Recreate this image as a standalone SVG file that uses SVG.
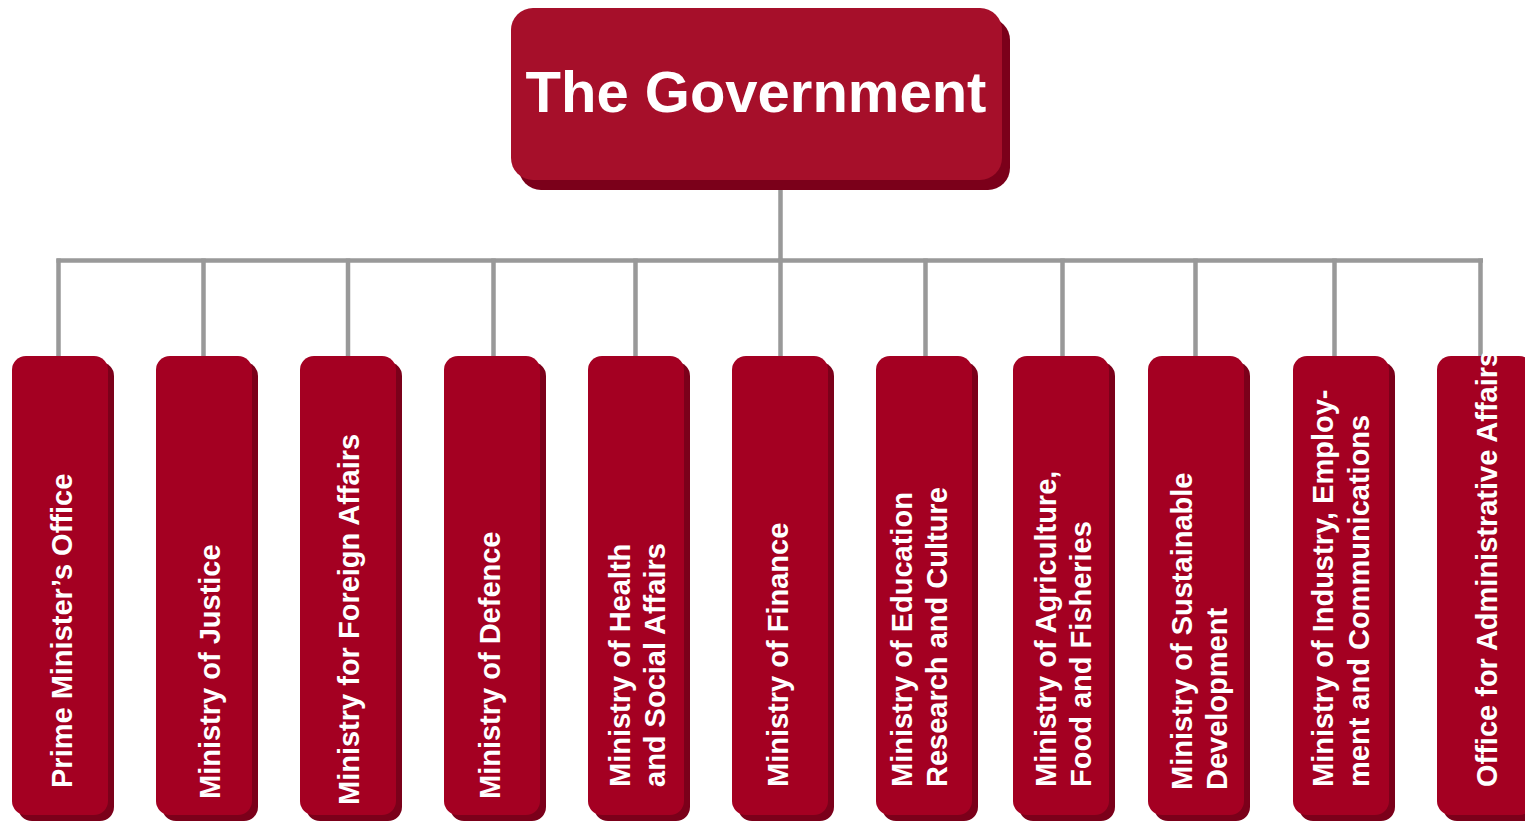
<svg xmlns="http://www.w3.org/2000/svg" width="1525" height="821" viewBox="0 0 1525 821">
<style>
.lbl{font-family:"Liberation Sans",Arial,Helvetica,sans-serif;font-weight:bold;font-size:29px;fill:#ffffff}
.title{font-family:"Liberation Sans",Arial,Helvetica,sans-serif;font-weight:bold;font-size:58px;fill:#ffffff}
.front{fill:#A40022}
.shadow{fill:#7B001A}
.conn{stroke:#999999;stroke-width:4.5;fill:none}
</style>
<rect width="1525" height="821" fill="#ffffff"/>
<g id="connectors">
<line class="conn" x1="780.5" y1="188" x2="780.5" y2="260.5"/>
<line class="conn" x1="56.5" y1="260.5" x2="1483" y2="260.5"/>
<line class="conn" x1="58.5" y1="258.5" x2="58.5" y2="360"/>
<line class="conn" x1="203.5" y1="258.5" x2="203.5" y2="360"/>
<line class="conn" x1="348" y1="258.5" x2="348" y2="360"/>
<line class="conn" x1="493.5" y1="258.5" x2="493.5" y2="360"/>
<line class="conn" x1="635.5" y1="258.5" x2="635.5" y2="360"/>
<line class="conn" x1="780.5" y1="258.5" x2="780.5" y2="360"/>
<line class="conn" x1="925.5" y1="258.5" x2="925.5" y2="360"/>
<line class="conn" x1="1062.5" y1="258.5" x2="1062.5" y2="360"/>
<line class="conn" x1="1195.5" y1="258.5" x2="1195.5" y2="360"/>
<line class="conn" x1="1334.5" y1="258.5" x2="1334.5" y2="360"/>
<line class="conn" x1="1480.5" y1="258.5" x2="1480.5" y2="360"/>
</g>
<g id="government">
<rect class="shadow" x="519" y="18" width="491" height="172" rx="22" fill="#7B001A"/>
<rect x="511" y="8" width="491" height="172" rx="22" fill="#A60F2A"/>
<text class="title" x="756" y="112" text-anchor="middle">The Government</text>
</g>
<g id="n1">
<rect class="shadow" x="18" y="362" width="96" height="459" rx="14"/>
<rect class="front" x="12" y="356" width="96" height="459" rx="14"/>
<text class="lbl" transform="translate(72,788) rotate(-90)">Prime Minister’s Office</text>
</g>
<g id="n2">
<rect class="shadow" x="162" y="362" width="96" height="459" rx="14"/>
<rect class="front" x="156" y="356" width="96" height="459" rx="14"/>
<text class="lbl" transform="translate(220,799) rotate(-90)">Ministry of Justice</text>
</g>
<g id="n3">
<rect class="shadow" x="306" y="362" width="96" height="459" rx="14"/>
<rect class="front" x="300" y="356" width="96" height="459" rx="14"/>
<text class="lbl" transform="translate(359,805) rotate(-90)">Ministry for Foreign Affairs</text>
</g>
<g id="n4">
<rect class="shadow" x="450" y="362" width="96" height="459" rx="14"/>
<rect class="front" x="444" y="356" width="96" height="459" rx="14"/>
<text class="lbl" transform="translate(500,799) rotate(-90)">Ministry of Defence</text>
</g>
<g id="n5">
<rect class="shadow" x="594" y="362" width="96" height="459" rx="14"/>
<rect class="front" x="588" y="356" width="96" height="459" rx="14"/>
<text class="lbl" transform="translate(630,787) rotate(-90)"><tspan x="0" y="0">Ministry of Health</tspan><tspan x="0" y="35">and Social Affairs</tspan></text>
</g>
<g id="n6">
<rect class="shadow" x="738" y="362" width="96" height="459" rx="14"/>
<rect class="front" x="732" y="356" width="96" height="459" rx="14"/>
<text class="lbl" transform="translate(788,787) rotate(-90)">Ministry of Finance</text>
</g>
<g id="n7">
<rect class="shadow" x="882" y="362" width="96" height="459" rx="14"/>
<rect class="front" x="876" y="356" width="96" height="459" rx="14"/>
<text class="lbl" transform="translate(912,787) rotate(-90)"><tspan x="0" y="0">Ministry of Education</tspan><tspan x="0" y="35">Research and Culture</tspan></text>
</g>
<g id="n8">
<rect class="shadow" x="1019" y="362" width="96" height="459" rx="14"/>
<rect class="front" x="1013" y="356" width="96" height="459" rx="14"/>
<text class="lbl" transform="translate(1056,787) rotate(-90)"><tspan x="0" y="0">Ministry of Agriculture,</tspan><tspan x="0" y="35">Food and Fisheries</tspan></text>
</g>
<g id="n9">
<rect class="shadow" x="1154" y="362" width="96" height="459" rx="14"/>
<rect class="front" x="1148" y="356" width="96" height="459" rx="14"/>
<text class="lbl" transform="translate(1192,790) rotate(-90)"><tspan x="0" y="0">Ministry of Sustainable</tspan><tspan x="0" y="35">Development</tspan></text>
</g>
<g id="n10">
<rect class="shadow" x="1299" y="362" width="96" height="459" rx="14"/>
<rect class="front" x="1293" y="356" width="96" height="459" rx="14"/>
<text class="lbl" transform="translate(1333,787) rotate(-90)"><tspan x="0" y="0">Ministry of Industry, Employ-</tspan><tspan x="0" y="36">ment and Communications</tspan></text>
</g>
<g id="n11">
<rect class="shadow" x="1443" y="362" width="96" height="459" rx="14"/>
<rect class="front" x="1437" y="356" width="96" height="459" rx="14"/>
<text class="lbl" transform="translate(1497,787) rotate(-90)">Office for Administrative Affairs</text>
</g>
</svg>
